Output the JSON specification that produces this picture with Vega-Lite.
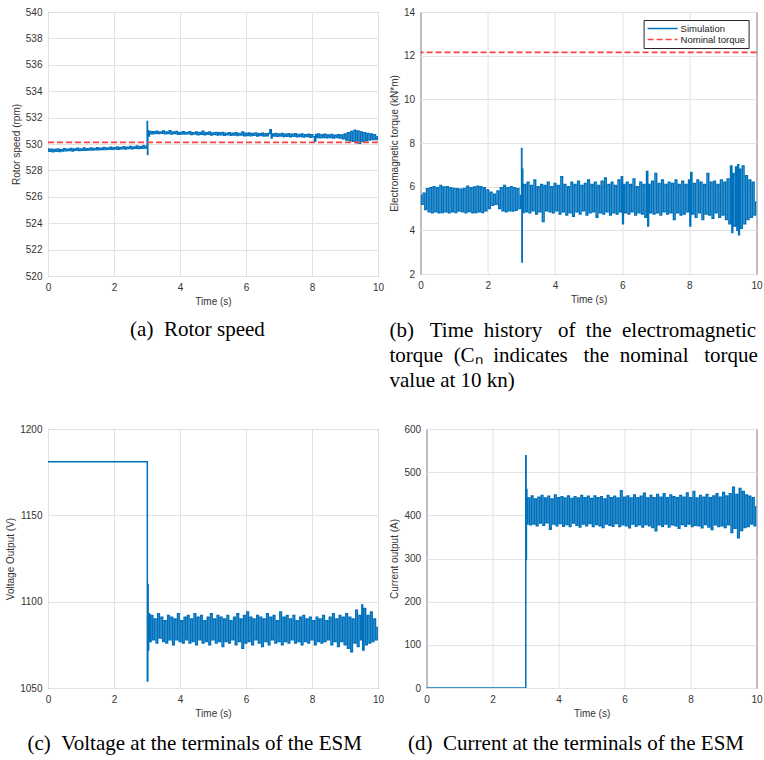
{
"$schema": "https://vega.github.io/schema/vega-lite/v6.json",
"background": "white",
"padding": {"left": 5, "top": 6, "right": 2, "bottom": 4},
"config": {
  "font": "Liberation Sans",
  "view": {"stroke": "#2b2b2b", "strokeWidth": 1},
  "axis": {"grid": true, "gridColor": "#e2e2e2", "gridWidth": 1, "domain": false, "ticks": false, "labelFontSize": 10, "labelColor": "#333333", "titleFontSize": 10, "titleFontWeight": "normal", "titleColor": "#333333", "labelPadding": 6, "titlePadding": 4, "labelFlush": false, "labelOverlap": false},
  "title": {"font": "Liberation Serif", "fontSize": 21, "fontWeight": "normal", "color": "#000000", "orient": "bottom", "lineHeight": 25, "frame": "bounds"},
  "legend": {"strokeColor": "#262626", "fillColor": "white", "padding": 3, "symbolType": "stroke", "symbolSize": 900, "symbolStrokeWidth": 1.5, "labelFontSize": 9.5, "labelColor": "#222222", "labelOffset": 2, "rowPadding": 0, "clipHeight": 11, "orient": "top-right", "offset": 8, "title": null}
},
"datasets": {
  "speed": [
{"t":0,"v":529.62},{"t":0.05,"v":529.45},{"t":0.1,"v":529.6},{"t":0.15,"v":529.42},{"t":0.2,"v":529.58},{"t":0.25,"v":529.46},{"t":0.3,"v":529.63},{"t":0.35,"v":529.44},{"t":0.4,"v":529.57},{"t":0.45,"v":529.47},{"t":0.5,"v":529.64},{"t":0.55,"v":529.48},{"t":0.6,"v":529.6},{"t":0.65,"v":529.5},{"t":0.7,"v":529.66},{"t":0.75,"v":529.47},{"t":0.8,"v":529.62},{"t":0.85,"v":529.52},{"t":0.9,"v":529.67},{"t":0.95,"v":529.5},{"t":1.0,"v":529.63},{"t":1.05,"v":529.52},{"t":1.1,"v":529.69},{"t":1.15,"v":529.53},{"t":1.2,"v":529.64},{"t":1.25,"v":529.55},{"t":1.3,"v":529.7},{"t":1.35,"v":529.54},{"t":1.4,"v":529.66},{"t":1.45,"v":529.57},{"t":1.5,"v":529.72},{"t":1.55,"v":529.56},{"t":1.6,"v":529.68},{"t":1.65,"v":529.59},{"t":1.7,"v":529.74},{"t":1.75,"v":529.58},{"t":1.8,"v":529.7},{"t":1.85,"v":529.61},{"t":1.9,"v":529.75},{"t":1.95,"v":529.6},{"t":2.0,"v":529.72},{"t":2.05,"v":529.62},{"t":2.1,"v":529.78},{"t":2.15,"v":529.61},{"t":2.2,"v":529.74},{"t":2.25,"v":529.64},{"t":2.3,"v":529.8},{"t":2.35,"v":529.63},{"t":2.4,"v":529.76},{"t":2.45,"v":529.66},{"t":2.5,"v":529.82},{"t":2.55,"v":529.64},{"t":2.6,"v":529.77},{"t":2.65,"v":529.67},{"t":2.7,"v":529.84},{"t":2.75,"v":529.66},{"t":2.8,"v":529.79},{"t":2.85,"v":529.68},{"t":2.9,"v":529.86},{"t":2.95,"v":529.7},
{"t":3.0,"v":529.8},{"t":3.01,"v":531.7},{"t":3.02,"v":529.2},{"t":3.03,"v":531.0},{"t":3.05,"v":530.6},
{"t":3.1,"v":530.95},{"t":3.15,"v":530.78},{"t":3.2,"v":530.92},{"t":3.25,"v":530.8},{"t":3.3,"v":530.96},{"t":3.35,"v":530.79},{"t":3.4,"v":530.9},{"t":3.45,"v":530.82},{"t":3.5,"v":530.98},{"t":3.55,"v":530.78},{"t":3.6,"v":530.91},{"t":3.65,"v":530.8},{"t":3.7,"v":531.0},{"t":3.75,"v":530.76},{"t":3.8,"v":530.9},{"t":3.85,"v":530.8},{"t":3.9,"v":530.94},{"t":3.95,"v":530.74},{"t":4.0,"v":530.88},{"t":4.05,"v":530.76},{"t":4.1,"v":530.92},{"t":4.15,"v":530.75},{"t":4.2,"v":530.87},{"t":4.25,"v":530.77},{"t":4.3,"v":530.93},{"t":4.35,"v":530.72},{"t":4.4,"v":530.86},{"t":4.45,"v":530.75},{"t":4.5,"v":530.9},{"t":4.55,"v":530.7},{"t":4.6,"v":530.88},{"t":4.65,"v":530.74},{"t":4.7,"v":530.96},{"t":4.75,"v":530.71},{"t":4.8,"v":530.85},{"t":4.85,"v":530.73},{"t":4.9,"v":530.9},{"t":4.95,"v":530.69},{"t":5.0,"v":530.84},{"t":5.05,"v":530.72},{"t":5.1,"v":530.88},{"t":5.15,"v":530.68},{"t":5.2,"v":530.85},{"t":5.25,"v":530.71},{"t":5.3,"v":530.87},{"t":5.35,"v":530.67},{"t":5.4,"v":530.82},{"t":5.45,"v":530.7},{"t":5.5,"v":530.86},{"t":5.55,"v":530.66},{"t":5.6,"v":530.81},{"t":5.65,"v":530.69},{"t":5.7,"v":530.85},{"t":5.75,"v":530.64},{"t":5.8,"v":530.8},{"t":5.85,"v":530.68},{"t":5.9,"v":530.9},{"t":5.95,"v":530.62},{"t":6.0,"v":530.82},{"t":6.05,"v":530.65},{"t":6.1,"v":530.84},{"t":6.15,"v":530.63},{"t":6.2,"v":530.79},{"t":6.25,"v":530.66},{"t":6.3,"v":530.83},{"t":6.35,"v":530.6},{"t":6.4,"v":530.78},{"t":6.45,"v":530.64},{"t":6.5,"v":530.82},{"t":6.55,"v":530.6},{"t":6.6,"v":530.77},{"t":6.65,"v":530.62},{"t":6.7,"v":530.8},{"t":6.75,"v":531.08},{"t":6.78,"v":530.45},{"t":6.8,"v":530.76},{"t":6.85,"v":530.6},{"t":6.9,"v":530.8},{"t":6.95,"v":530.58},{"t":7.0,"v":530.76},{"t":7.05,"v":530.6},{"t":7.1,"v":530.79},{"t":7.15,"v":530.57},{"t":7.2,"v":530.74},{"t":7.25,"v":530.59},{"t":7.3,"v":530.78},{"t":7.35,"v":530.55},{"t":7.4,"v":530.73},{"t":7.45,"v":530.58},{"t":7.5,"v":530.77},{"t":7.55,"v":530.54},{"t":7.6,"v":530.72},{"t":7.65,"v":530.57},{"t":7.7,"v":530.76},{"t":7.75,"v":530.53},{"t":7.8,"v":530.7},{"t":7.85,"v":530.56},{"t":7.9,"v":530.74},{"t":7.95,"v":530.52},{"t":8.0,"v":530.7},{"t":8.05,"v":530.55},{"t":8.1,"v":530.2},{"t":8.12,"v":530.72},{"t":8.15,"v":530.5},{"t":8.2,"v":530.75},{"t":8.25,"v":530.48},{"t":8.3,"v":530.7},{"t":8.35,"v":530.5},{"t":8.4,"v":530.74},{"t":8.45,"v":530.47},{"t":8.5,"v":530.68},{"t":8.55,"v":530.5},{"t":8.6,"v":530.72},{"t":8.65,"v":530.46},{"t":8.7,"v":530.67},{"t":8.75,"v":530.49},{"t":8.8,"v":530.71},{"t":8.85,"v":530.45},{"t":8.9,"v":530.68},{"t":8.95,"v":530.4},{"t":9.0,"v":530.75},{"t":9.05,"v":530.3},{"t":9.1,"v":530.85},{"t":9.15,"v":530.25},{"t":9.2,"v":530.95},{"t":9.25,"v":530.2},{"t":9.3,"v":531.05},{"t":9.35,"v":530.1},{"t":9.4,"v":530.98},{"t":9.45,"v":530.05},{"t":9.5,"v":530.9},{"t":9.55,"v":530.2},{"t":9.6,"v":530.85},{"t":9.65,"v":530.25},{"t":9.7,"v":530.8},{"t":9.75,"v":530.3},{"t":9.8,"v":530.75},{"t":9.85,"v":530.35},{"t":9.9,"v":530.7},{"t":9.95,"v":530.35},{"t":10.0,"v":530.55}
  ],
  "torque": [
{"t":0,"v":5.6},{"t":0.05,"v":5.2},{"t":0.1,"v":5.7},{"t":0.15,"v":4.95},{"t":0.2,"v":5.9},{"t":0.25,"v":4.85},{"t":0.3,"v":5.95},{"t":0.35,"v":4.8},{"t":0.4,"v":6.0},{"t":0.45,"v":4.85},{"t":0.5,"v":5.95},{"t":0.55,"v":4.8},{"t":0.6,"v":6.05},{"t":0.65,"v":4.82},{"t":0.7,"v":5.98},{"t":0.75,"v":4.85},{"t":0.8,"v":6.0},{"t":0.85,"v":4.8},{"t":0.9,"v":5.95},{"t":0.95,"v":4.85},{"t":1.0,"v":5.92},{"t":1.05,"v":4.82},{"t":1.1,"v":5.9},{"t":1.15,"v":4.88},{"t":1.2,"v":5.88},{"t":1.25,"v":4.85},{"t":1.3,"v":5.92},{"t":1.35,"v":4.8},{"t":1.4,"v":6.02},{"t":1.45,"v":4.86},{"t":1.5,"v":5.95},{"t":1.55,"v":4.8},{"t":1.6,"v":5.98},{"t":1.65,"v":4.82},{"t":1.7,"v":6.02},{"t":1.75,"v":4.85},{"t":1.8,"v":6.0},{"t":1.85,"v":4.82},{"t":1.9,"v":5.95},{"t":1.95,"v":4.9},{"t":2.0,"v":5.85},{"t":2.05,"v":5.0},{"t":2.1,"v":5.75},{"t":2.15,"v":5.15},{"t":2.2,"v":5.65},{"t":2.25,"v":5.2},{"t":2.3,"v":5.8},{"t":2.35,"v":5.0},{"t":2.4,"v":5.95},{"t":2.45,"v":4.9},{"t":2.5,"v":6.05},{"t":2.55,"v":4.85},{"t":2.6,"v":5.95},{"t":2.65,"v":4.9},{"t":2.7,"v":6.0},{"t":2.75,"v":4.88},{"t":2.8,"v":5.95},{"t":2.85,"v":4.92},{"t":2.9,"v":5.9},{"t":2.95,"v":5.0},
{"t":3.0,"v":5.6},{"t":3.01,"v":7.75},{"t":3.02,"v":2.55},{"t":3.03,"v":6.8},{"t":3.05,"v":4.8},
{"t":3.1,"v":6.1},{"t":3.15,"v":4.85},{"t":3.2,"v":6.2},{"t":3.25,"v":4.8},{"t":3.3,"v":6.05},{"t":3.35,"v":4.9},{"t":3.4,"v":6.3},{"t":3.45,"v":4.75},{"t":3.5,"v":6.0},{"t":3.55,"v":4.85},{"t":3.6,"v":6.1},{"t":3.65,"v":4.4},{"t":3.7,"v":6.05},{"t":3.75,"v":4.9},{"t":3.8,"v":6.2},{"t":3.85,"v":4.85},{"t":3.9,"v":6.0},{"t":3.95,"v":4.8},{"t":4.0,"v":6.15},{"t":4.05,"v":4.9},{"t":4.1,"v":6.05},{"t":4.15,"v":4.75},{"t":4.2,"v":6.45},{"t":4.25,"v":4.85},{"t":4.3,"v":6.1},{"t":4.35,"v":4.7},{"t":4.4,"v":6.0},{"t":4.45,"v":4.8},{"t":4.5,"v":6.2},{"t":4.55,"v":4.65},{"t":4.6,"v":6.1},{"t":4.65,"v":4.85},{"t":4.7,"v":6.25},{"t":4.75,"v":4.75},{"t":4.8,"v":6.05},{"t":4.85,"v":4.9},{"t":4.9,"v":6.15},{"t":4.95,"v":4.7},{"t":5.0,"v":6.3},{"t":5.05,"v":4.8},{"t":5.1,"v":6.1},{"t":5.15,"v":4.85},{"t":5.2,"v":6.2},{"t":5.25,"v":4.6},{"t":5.3,"v":6.05},{"t":5.35,"v":4.8},{"t":5.4,"v":6.25},{"t":5.45,"v":4.75},{"t":5.5,"v":6.4},{"t":5.55,"v":4.85},{"t":5.6,"v":6.1},{"t":5.65,"v":4.7},{"t":5.7,"v":6.2},{"t":5.75,"v":4.8},{"t":5.8,"v":6.05},{"t":5.85,"v":4.75},{"t":5.9,"v":6.3},{"t":5.95,"v":4.85},{"t":6.0,"v":6.45},{"t":6.02,"v":4.3},{"t":6.05,"v":6.1},{"t":6.1,"v":4.8},{"t":6.15,"v":6.2},{"t":6.2,"v":4.75},{"t":6.25,"v":6.1},{"t":6.3,"v":4.85},{"t":6.35,"v":6.35},{"t":6.4,"v":4.7},{"t":6.45,"v":6.0},{"t":6.5,"v":4.8},{"t":6.55,"v":6.2},{"t":6.6,"v":4.75},{"t":6.65,"v":6.1},{"t":6.7,"v":4.6},{"t":6.75,"v":6.7},{"t":6.77,"v":4.2},{"t":6.8,"v":6.1},{"t":6.85,"v":4.8},{"t":6.9,"v":6.25},{"t":6.95,"v":4.75},{"t":7.0,"v":6.6},{"t":7.05,"v":4.8},{"t":7.1,"v":6.15},{"t":7.15,"v":4.7},{"t":7.2,"v":6.3},{"t":7.25,"v":4.85},{"t":7.3,"v":6.1},{"t":7.35,"v":4.75},{"t":7.4,"v":6.2},{"t":7.45,"v":4.8},{"t":7.5,"v":6.15},{"t":7.55,"v":4.5},{"t":7.6,"v":6.3},{"t":7.65,"v":4.8},{"t":7.7,"v":6.1},{"t":7.75,"v":4.7},{"t":7.8,"v":6.25},{"t":7.85,"v":4.75},{"t":7.9,"v":6.1},{"t":7.95,"v":4.85},{"t":8.0,"v":6.3},{"t":8.03,"v":4.2},{"t":8.05,"v":6.65},{"t":8.1,"v":4.75},{"t":8.15,"v":6.15},{"t":8.2,"v":4.6},{"t":8.25,"v":6.3},{"t":8.3,"v":4.8},{"t":8.35,"v":6.2},{"t":8.4,"v":4.5},{"t":8.45,"v":6.1},{"t":8.5,"v":4.75},{"t":8.55,"v":6.6},{"t":8.6,"v":4.7},{"t":8.65,"v":6.2},{"t":8.7,"v":4.55},{"t":8.75,"v":6.25},{"t":8.8,"v":4.8},{"t":8.85,"v":6.1},{"t":8.9,"v":4.6},{"t":8.95,"v":6.3},{"t":9.0,"v":4.7},{"t":9.05,"v":6.2},{"t":9.1,"v":4.5},{"t":9.15,"v":6.35},{"t":9.2,"v":4.3},{"t":9.25,"v":6.95},{"t":9.28,"v":3.9},{"t":9.3,"v":6.6},{"t":9.35,"v":4.2},{"t":9.4,"v":6.9},{"t":9.43,"v":4.0},{"t":9.45,"v":7.0},{"t":9.48,"v":3.8},{"t":9.5,"v":6.8},{"t":9.55,"v":4.1},{"t":9.6,"v":6.95},{"t":9.65,"v":4.3},{"t":9.7,"v":6.5},{"t":9.75,"v":4.5},{"t":9.8,"v":6.3},{"t":9.85,"v":4.6},{"t":9.9,"v":6.2},{"t":9.95,"v":4.7},{"t":10.0,"v":5.3}
  ],
  "voltage": [
{"t":0,"v":1181},{"t":3.0,"v":1181},{"t":3.02,"v":1054},{"t":3.03,"v":1110},{"t":3.04,"v":1072},{"t":3.06,"v":1093},
{"t":3.1,"v":1077},{"t":3.15,"v":1092},{"t":3.2,"v":1078},{"t":3.25,"v":1090},{"t":3.3,"v":1076},{"t":3.35,"v":1093},{"t":3.4,"v":1079},{"t":3.45,"v":1091},{"t":3.5,"v":1077},{"t":3.55,"v":1089},{"t":3.6,"v":1076},{"t":3.65,"v":1092},{"t":3.7,"v":1078},{"t":3.75,"v":1091},{"t":3.8,"v":1075},{"t":3.85,"v":1090},{"t":3.9,"v":1078},{"t":3.95,"v":1093},{"t":4.0,"v":1077},{"t":4.05,"v":1089},{"t":4.1,"v":1076},{"t":4.15,"v":1091},{"t":4.2,"v":1078},{"t":4.25,"v":1092},{"t":4.3,"v":1076},{"t":4.35,"v":1090},{"t":4.4,"v":1077},{"t":4.45,"v":1093},{"t":4.5,"v":1075},{"t":4.55,"v":1091},{"t":4.6,"v":1078},{"t":4.65,"v":1092},{"t":4.7,"v":1076},{"t":4.75,"v":1089},{"t":4.8,"v":1077},{"t":4.85,"v":1091},{"t":4.9,"v":1075},{"t":4.95,"v":1093},{"t":5.0,"v":1078},{"t":5.05,"v":1090},{"t":5.1,"v":1076},{"t":5.15,"v":1092},{"t":5.2,"v":1077},{"t":5.25,"v":1091},{"t":5.3,"v":1074},{"t":5.35,"v":1090},{"t":5.4,"v":1077},{"t":5.45,"v":1092},{"t":5.5,"v":1076},{"t":5.55,"v":1089},{"t":5.6,"v":1078},{"t":5.65,"v":1091},{"t":5.7,"v":1075},{"t":5.75,"v":1093},{"t":5.8,"v":1077},{"t":5.85,"v":1090},{"t":5.9,"v":1073},{"t":5.95,"v":1092},{"t":6.0,"v":1076},{"t":6.05,"v":1094},{"t":6.1,"v":1077},{"t":6.15,"v":1091},{"t":6.2,"v":1075},{"t":6.25,"v":1090},{"t":6.3,"v":1078},{"t":6.35,"v":1092},{"t":6.4,"v":1076},{"t":6.45,"v":1091},{"t":6.5,"v":1074},{"t":6.55,"v":1090},{"t":6.6,"v":1077},{"t":6.65,"v":1093},{"t":6.7,"v":1075},{"t":6.75,"v":1091},{"t":6.8,"v":1078},{"t":6.85,"v":1092},{"t":6.9,"v":1076},{"t":6.95,"v":1089},{"t":7.0,"v":1077},{"t":7.05,"v":1094},{"t":7.1,"v":1075},{"t":7.15,"v":1091},{"t":7.2,"v":1077},{"t":7.25,"v":1092},{"t":7.3,"v":1076},{"t":7.35,"v":1090},{"t":7.4,"v":1078},{"t":7.45,"v":1092},{"t":7.5,"v":1076},{"t":7.55,"v":1089},{"t":7.6,"v":1077},{"t":7.65,"v":1091},{"t":7.7,"v":1075},{"t":7.75,"v":1092},{"t":7.8,"v":1077},{"t":7.85,"v":1090},{"t":7.9,"v":1076},{"t":7.95,"v":1091},{"t":8.0,"v":1078},{"t":8.05,"v":1089},{"t":8.1,"v":1075},{"t":8.15,"v":1091},{"t":8.2,"v":1077},{"t":8.25,"v":1090},{"t":8.3,"v":1076},{"t":8.35,"v":1092},{"t":8.4,"v":1077},{"t":8.45,"v":1089},{"t":8.5,"v":1078},{"t":8.55,"v":1091},{"t":8.6,"v":1075},{"t":8.65,"v":1093},{"t":8.7,"v":1077},{"t":8.75,"v":1090},{"t":8.8,"v":1074},{"t":8.85,"v":1092},{"t":8.9,"v":1077},{"t":8.95,"v":1091},{"t":9.0,"v":1075},{"t":9.05,"v":1093},{"t":9.1,"v":1073},{"t":9.15,"v":1091},{"t":9.2,"v":1071},{"t":9.25,"v":1090},{"t":9.3,"v":1076},{"t":9.35,"v":1095},{"t":9.4,"v":1074},{"t":9.45,"v":1092},{"t":9.5,"v":1078},{"t":9.52,"v":1098},{"t":9.55,"v":1072},{"t":9.6,"v":1096},{"t":9.65,"v":1075},{"t":9.7,"v":1092},{"t":9.75,"v":1076},{"t":9.8,"v":1094},{"t":9.85,"v":1077},{"t":9.9,"v":1090},{"t":9.95,"v":1078},{"t":10.0,"v":1085}
  ],
  "current": [
{"t":0,"v":0},{"t":3.0,"v":0},{"t":3.01,"v":538},{"t":3.02,"v":298},{"t":3.03,"v":460},{"t":3.05,"v":380},
{"t":3.1,"v":440},{"t":3.15,"v":378},{"t":3.2,"v":445},{"t":3.25,"v":380},{"t":3.3,"v":438},{"t":3.35,"v":376},{"t":3.4,"v":442},{"t":3.45,"v":382},{"t":3.5,"v":446},{"t":3.55,"v":377},{"t":3.6,"v":440},{"t":3.65,"v":383},{"t":3.7,"v":444},{"t":3.75,"v":368},{"t":3.8,"v":438},{"t":3.85,"v":380},{"t":3.9,"v":447},{"t":3.95,"v":376},{"t":4.0,"v":441},{"t":4.05,"v":381},{"t":4.1,"v":443},{"t":4.15,"v":375},{"t":4.2,"v":440},{"t":4.25,"v":379},{"t":4.3,"v":445},{"t":4.35,"v":374},{"t":4.4,"v":439},{"t":4.45,"v":382},{"t":4.5,"v":443},{"t":4.55,"v":377},{"t":4.6,"v":440},{"t":4.65,"v":373},{"t":4.7,"v":446},{"t":4.75,"v":380},{"t":4.8,"v":441},{"t":4.85,"v":376},{"t":4.9,"v":444},{"t":4.95,"v":381},{"t":5.0,"v":439},{"t":5.05,"v":374},{"t":5.1,"v":445},{"t":5.15,"v":379},{"t":5.2,"v":441},{"t":5.25,"v":376},{"t":5.3,"v":443},{"t":5.35,"v":372},{"t":5.4,"v":438},{"t":5.45,"v":380},{"t":5.5,"v":446},{"t":5.55,"v":377},{"t":5.6,"v":441},{"t":5.65,"v":375},{"t":5.7,"v":444},{"t":5.75,"v":381},{"t":5.8,"v":440},{"t":5.85,"v":374},{"t":5.9,"v":457},{"t":5.95,"v":378},{"t":6.0,"v":442},{"t":6.05,"v":376},{"t":6.1,"v":445},{"t":6.15,"v":371},{"t":6.2,"v":440},{"t":6.25,"v":380},{"t":6.3,"v":447},{"t":6.35,"v":375},{"t":6.4,"v":441},{"t":6.45,"v":378},{"t":6.5,"v":444},{"t":6.55,"v":373},{"t":6.6,"v":451},{"t":6.65,"v":379},{"t":6.7,"v":440},{"t":6.75,"v":376},{"t":6.8,"v":446},{"t":6.85,"v":372},{"t":6.9,"v":441},{"t":6.95,"v":364},{"t":7.0,"v":448},{"t":7.05,"v":378},{"t":7.1,"v":442},{"t":7.15,"v":375},{"t":7.2,"v":450},{"t":7.25,"v":380},{"t":7.3,"v":441},{"t":7.35,"v":373},{"t":7.4,"v":447},{"t":7.45,"v":378},{"t":7.5,"v":443},{"t":7.55,"v":376},{"t":7.6,"v":441},{"t":7.65,"v":370},{"t":7.7,"v":446},{"t":7.75,"v":379},{"t":7.8,"v":442},{"t":7.85,"v":375},{"t":7.9,"v":452},{"t":7.95,"v":380},{"t":8.0,"v":441},{"t":8.05,"v":374},{"t":8.1,"v":455},{"t":8.15,"v":377},{"t":8.2,"v":440},{"t":8.25,"v":376},{"t":8.3,"v":446},{"t":8.35,"v":371},{"t":8.4,"v":442},{"t":8.45,"v":379},{"t":8.5,"v":448},{"t":8.55,"v":373},{"t":8.6,"v":441},{"t":8.65,"v":367},{"t":8.7,"v":445},{"t":8.75,"v":378},{"t":8.8,"v":450},{"t":8.85,"v":374},{"t":8.9,"v":442},{"t":8.95,"v":376},{"t":9.0,"v":453},{"t":9.05,"v":372},{"t":9.1,"v":445},{"t":9.15,"v":378},{"t":9.2,"v":450},{"t":9.25,"v":360},{"t":9.3,"v":465},{"t":9.35,"v":370},{"t":9.4,"v":448},{"t":9.45,"v":348},{"t":9.5,"v":462},{"t":9.55,"v":365},{"t":9.6,"v":455},{"t":9.65,"v":372},{"t":9.7,"v":447},{"t":9.75,"v":374},{"t":9.8,"v":444},{"t":9.85,"v":380},{"t":9.9,"v":441},{"t":9.95,"v":376},{"t":10.0,"v":420}
  ]
},
"columns": 2,
"align": "none",
"spacing": {"row": 31, "column": 3.6},
"resolve": {"scale": {"x": "independent", "y": "independent", "color": "independent", "strokeDash": "independent"}, "legend": {"color": "independent", "strokeDash": "independent"}},
"concat": [
      {
        "width": 330, "height": 264,
        "title": {"text": "(a)\u00a0\u00a0Rotor speed", "anchor": "middle", "offset": 13},
        "layer": [
          {"data": {"name": "speed"}, "mark": {"type": "line", "color": "#0072BD", "strokeWidth": 1.5, "interpolate": "step", "clip": true},
           "encoding": {
             "x": {"field": "t", "type": "quantitative", "scale": {"domain": [0, 10], "nice": false}, "axis": {"title": "Time (s)", "values": [0, 2, 4, 6, 8, 10], "format": "d"}},
             "y": {"field": "v", "type": "quantitative", "scale": {"domain": [520, 540], "nice": false, "zero": false}, "axis": {"title": "Rotor speed (rpm)", "values": [520, 522, 524, 526, 528, 530, 532, 534, 536, 538, 540], "tickCount": 20, "format": "d"}}
           }},
          {"data": {"values": [{"v": 530.12}]}, "mark": {"type": "rule", "color": "#ff4040", "strokeDash": [6, 3], "strokeWidth": 1.8},
           "encoding": {"y": {"field": "v", "type": "quantitative"}}}
        ]
      },
      {
        "width": 336, "height": 262,
        "title": {"text": ["(b)\u00a0\u00a0\u00a0Time\u00a0\u00a0history\u00a0\u00a0\u00a0of\u00a0\u00a0the\u00a0\u00a0electromagnetic", "torque\u00a0\u00a0(Cₙ\u00a0\u00a0indicates\u00a0\u00a0\u00a0the\u00a0\u00a0nominal\u00a0\u00a0\u00a0torque", "value at 10 kn)"], "anchor": "start", "offset": 16},
        "layer": [
          {"data": {"name": "torque"}, "mark": {"type": "line", "strokeWidth": 1.5, "interpolate": "step", "clip": true},
           "encoding": {
             "x": {"field": "t", "type": "quantitative", "scale": {"domain": [0, 10], "nice": false}, "axis": {"title": "Time (s)", "values": [0, 2, 4, 6, 8, 10], "format": "d"}},
             "y": {"field": "v", "type": "quantitative", "scale": {"domain": [2, 14], "nice": false, "zero": false}, "axis": {"title": "Electromagnetic torque (kN*m)", "values": [2, 4, 6, 8, 10, 12, 14], "format": "d"}},
             "color": {"datum": "Simulation", "type": "nominal", "scale": {"domain": ["Simulation", "Nominal torque"], "range": ["#0072BD", "#ff4040"]}, "legend": {"title": null}},
             "strokeDash": {"datum": "Simulation", "type": "nominal", "scale": {"domain": ["Simulation", "Nominal torque"], "range": [[1, 0], [6, 3]]}, "legend": {"title": null}}
           }},
          {"data": {"values": [{"s": "Nominal torque", "v": 12.15}]}, "mark": {"type": "rule", "strokeWidth": 1.8},
           "encoding": {
             "y": {"field": "v", "type": "quantitative"},
             "color": {"field": "s", "type": "nominal", "legend": {"title": null}},
             "strokeDash": {"field": "s", "type": "nominal", "legend": {"title": null}}
           }}
        ]
      },
      {
        "width": 330, "height": 259,
        "title": {"text": "(c)\u00a0\u00a0Voltage at the terminals of the ESM", "anchor": "middle", "offset": 15},
        "layer": [
          {"data": {"name": "voltage"}, "mark": {"type": "line", "color": "#0072BD", "strokeWidth": 1.5, "interpolate": "step", "clip": true},
           "encoding": {
             "x": {"field": "t", "type": "quantitative", "scale": {"domain": [0, 10], "nice": false}, "axis": {"title": "Time (s)", "values": [0, 2, 4, 6, 8, 10], "format": "d"}},
             "y": {"field": "v", "type": "quantitative", "scale": {"domain": [1050, 1200], "nice": false, "zero": false}, "axis": {"title": "Voltage Output (V)", "values": [1050, 1100, 1150, 1200], "format": "d"}}
           }}
        ]
      },
      {
        "width": 330, "height": 259,
        "title": {"text": "(d)\u00a0\u00a0Current at the terminals of the ESM", "anchor": "middle", "offset": 15},
        "layer": [
          {"data": {"name": "current"}, "mark": {"type": "line", "color": "#0072BD", "strokeWidth": 1.5, "interpolate": "step", "clip": true},
           "encoding": {
             "x": {"field": "t", "type": "quantitative", "scale": {"domain": [0, 10], "nice": false}, "axis": {"title": "Time (s)", "values": [0, 2, 4, 6, 8, 10], "format": "d"}},
             "y": {"field": "v", "type": "quantitative", "scale": {"domain": [0, 600], "nice": false}, "axis": {"title": "Current output (A)", "values": [0, 100, 200, 300, 400, 500, 600], "format": "d"}}
           }}
        ]
      }
]
}
